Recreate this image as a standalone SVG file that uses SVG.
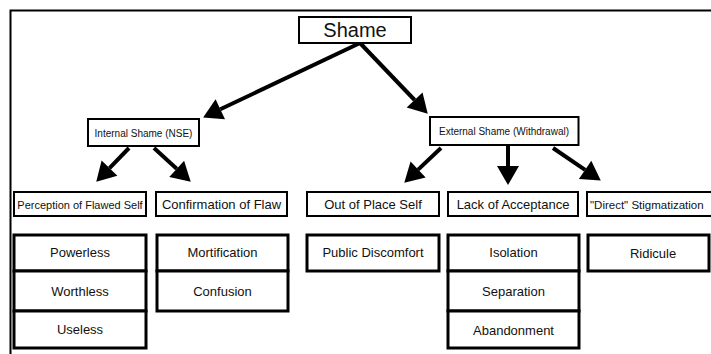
<svg xmlns="http://www.w3.org/2000/svg" width="711" height="354" viewBox="0 0 711 354">
<defs>
<style>
.b{fill:#fff;stroke:#000;stroke-width:2}
.c{fill:#fff;stroke:#000;stroke-width:3}
text{font-family:"Liberation Sans",Arial,sans-serif;fill:#111}
.t13{font-size:13px;text-anchor:middle}
.t10{font-size:10px;text-anchor:middle}
.conn line{stroke:#000;stroke-width:4;marker-end:url(#ah)}
</style>
<marker id="ah" markerUnits="userSpaceOnUse" markerWidth="20" markerHeight="24" viewBox="0 -12 20 24" refX="0" refY="0" orient="auto" overflow="visible">
<path d="M0,-11 L19,0 L0,11 z" fill="#000"/>
</marker>
</defs>
<rect width="711" height="354" fill="#fff"/>
<g id="frame" fill="none" stroke="#000" stroke-width="2">
<path d="M711,10.5 H10.5 V354"/>
</g>
<g class="conn">
<line x1="360" y1="43" x2="220.3" y2="109.3"/>
<line x1="360" y1="43" x2="414.6" y2="100"/>
<line x1="129" y1="148" x2="109.5" y2="168.1"/>
<line x1="154" y1="148" x2="176.7" y2="168.8"/>
<line x1="441" y1="148" x2="418.1" y2="169.6"/>
<line x1="508" y1="146" x2="508" y2="166"/>
<line x1="553" y1="148" x2="585.1" y2="169.9"/>
</g>
<g id="shame"><rect class="b" x="299" y="17" width="112" height="26"/><text x="355" y="37" style="font-size:20px;text-anchor:middle">Shame</text></g>
<g id="internal"><rect class="b" x="88" y="119" width="111" height="27"/><text class="t10" x="143.5" y="136.5">Internal Shame (NSE)</text></g>
<g id="external"><rect class="b" x="430" y="117" width="148.5" height="28"/><text class="t10" x="504" y="134.5">External Shame (Withdrawal)</text></g>
<g id="perception"><rect class="b" x="14" y="192" width="132" height="24"/><text x="80" y="208.5" style="font-size:11px;text-anchor:middle">Perception of Flawed Self</text></g>
<g id="confirmation"><rect class="b" x="156" y="192" width="131" height="24"/><text class="t13" x="221.5" y="209">Confirmation of Flaw</text></g>
<g id="outofplace"><rect class="b" x="307" y="192" width="132" height="24"/><text class="t13" x="373" y="209">Out of Place Self</text></g>
<g id="lack"><rect class="b" x="448" y="192" width="130" height="24"/><text class="t13" x="513" y="209">Lack of Acceptance</text></g>
<g id="direct"><rect class="b" x="587" y="192" width="130" height="24"/><text x="590" y="208.5" style="font-size:11.5px">"Direct" Stigmatization</text></g>
<g id="internal-list">
<rect class="c" x="14" y="235" width="132" height="36"/><text class="t13" x="80" y="257">Powerless</text>
<rect class="c" x="14" y="271" width="132" height="40"/><text class="t13" x="80" y="296">Worthless</text>
<rect class="c" x="14" y="311" width="132" height="37"/><text class="t13" x="80" y="334">Useless</text>
</g>
<g id="confirmation-list">
<rect class="c" x="157" y="235" width="131" height="36"/><text class="t13" x="222.5" y="257">Mortification</text>
<rect class="c" x="157" y="271" width="131" height="40"/><text class="t13" x="222.5" y="296">Confusion</text>
</g>
<g id="public"><rect class="c" x="307" y="235" width="132" height="36"/><text class="t13" x="373" y="257">Public Discomfort</text></g>
<g id="lack-list">
<rect class="c" x="448" y="235" width="131" height="36"/><text class="t13" x="513.5" y="257">Isolation</text>
<rect class="c" x="448" y="271" width="131" height="40"/><text class="t13" x="513.5" y="296">Separation</text>
<rect class="c" x="448" y="311" width="131" height="37"/><text class="t13" x="513.5" y="335">Abandonment</text>
</g>
<g id="ridicule"><rect class="c" x="588" y="235" width="121" height="36"/><text class="t13" x="653" y="258">Ridicule</text></g>
</svg>
